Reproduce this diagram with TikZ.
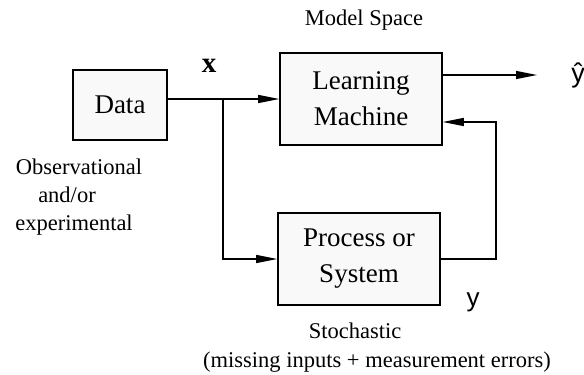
\documentclass[tikz,border=0pt]{standalone}
\usepackage{fontspec}
\setmainfont{Liberation Serif}
\setsansfont{Liberation Sans}
\usetikzlibrary{arrows.meta}
\begin{document}
\begin{tikzpicture}[x=1pt,y=-1pt,
  blockbox/.style={draw=black,line width=1.6pt,fill=gray!5,inner sep=0pt,align=center,
    font=\fontsize{27}{36}\selectfont},
  lbl/.style={font=\fontsize{22.5}{28}\selectfont,inner sep=0pt,anchor=base},
  conn/.style={line width=1.3pt,-{Triangle[length=21pt,width=8pt]}},
  plain/.style={line width=1.3pt}]
\useasboundingbox (0,0) rectangle (584,375);
\node[blockbox,minimum width=94pt,minimum height=70pt] (data) at (120,105) {Data};
\node[blockbox,minimum width=162pt,minimum height=92pt] (lm) at (361,99) {\fontsize{27}{40}\selectfont Learning\\Machine};
\node[blockbox,minimum width=162pt,minimum height=92pt] (ps) at (359,259) {\fontsize{27}{34}\selectfont Process or\\System};
% connectors
\coordinate (junc) at (223,99);
\coordinate (out) at (537,75);
\coordinate (fb) at (496,259);
\draw[plain] (data.east |- lm.west) -- (junc);
\draw[conn] (junc) -- (lm.west);
\draw[conn] (junc) |- (ps.west);
\draw[conn] (lm.east |- out) -- (out);
\draw[conn] (ps.east) -- (fb) |- ([yshift=-23pt]lm.east);
% labels
\node[lbl] (ms) at (364,25) {Model Space};
\node[lbl,font=\fontsize{29}{30}\selectfont\bfseries] (xl) at (209,72) {x};
\node[lbl,font=\fontsize{26}{30}\sffamily] (yl) at (473,306) {y};
\node[lbl,font=\fontsize{27}{30}\sffamily] (yh) at (578,82) {ŷ};
\node[lbl] (obs1) at (79,174) {Observational};
\node[lbl] (obs2) at (67,202) {and/or};
\node[lbl] (obs3) at (74,230) {experimental};
\node[lbl] (st1) at (355,338) {Stochastic};
\node[lbl] (st2) at (377,367) {(missing inputs + measurement errors)};
\end{tikzpicture}
\end{document}
